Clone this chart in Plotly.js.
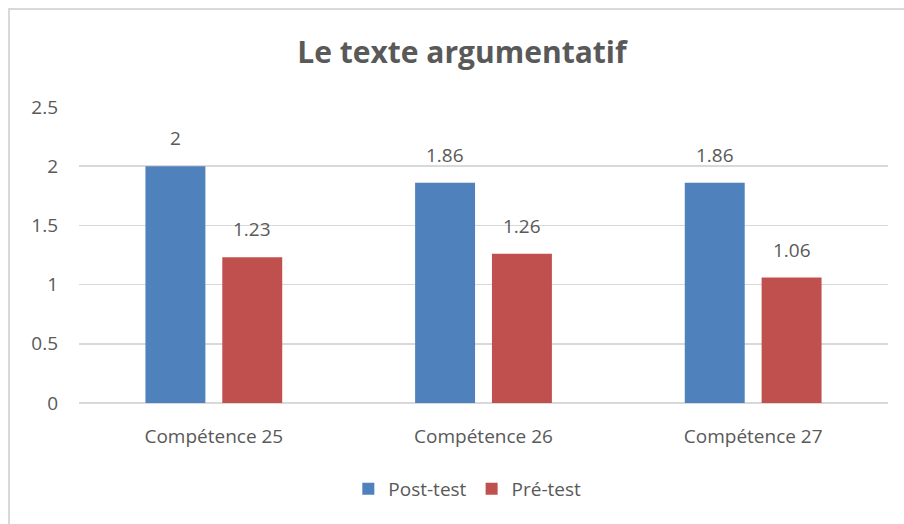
<!DOCTYPE html>
<html><head><meta charset="utf-8">
<script src="https://cdn.plot.ly/plotly-3.0.1.min.js"></script>
<style>
html,body{margin:0;padding:0;background:#fff;overflow:hidden}
#chart{width:904px;height:524px;position:relative}
#frame{position:absolute;left:8px;top:8px;width:1000px;height:1000px;border:2px solid #d9d9d9;pointer-events:none}
</style></head>
<body>
<div style="position:relative;width:904px;height:524px;overflow:hidden">
<div id="chart"></div>
<div id="frame"></div>
</div>
<script>
const categories = ["Compétence 25", "Compétence 26", "Compétence 27"];
const seriesNames = ["Post-test", "Pré-test"];
const postTest = [2, 1.86, 1.86];
const preTest = [1.23, 1.26, 1.06];
const postLabels = ["2", "1.86", "1.86"];
const preLabels = ["1.23", "1.26", "1.06"];
const yTicks = [0, 0.5, 1, 1.5, 2, 2.5];
const yTickLabels = ["0", "0.5", "1", "1.5", "2", "2.5"];

const FONT = "Open Sans, sans-serif";
const TXT = "#595959";
const BARGAP = 0.43;
const slot = (1 - BARGAP) / 2;

const traces = [
  {type:"bar", name:seriesNames[0], x:categories, y:postTest, marker:{color:"#4F81BD"}, hoverinfo:"none"},
  {type:"bar", name:seriesNames[1], x:categories, y:preTest, marker:{color:"#C0504D"}, hoverinfo:"none"}
];

const annotations = [];
[[postTest, postLabels, -slot/2], [preTest, preLabels, slot/2]].forEach(([vals, labs, off]) => {
  vals.forEach((v, i) => annotations.push({
    x: i + off, y: v, xref:"x", yref:"y", text: labs[i], showarrow:false,
    xanchor:"center", yanchor:"bottom", yshift:13,
    font:{family:FONT, size:19, color:TXT}
  }));
});

const layout = {
  width:904, height:524,
  margin:{l:79, r:16, t:107, b:121},
  paper_bgcolor:"#fff", plot_bgcolor:"#fff",
  font:{family:FONT, color:TXT, size:19},
  title:{text:"<b>Le texte argumentatif</b>", x:0.511, xanchor:"center", y:0.9, yanchor:"middle",
         font:{family:FONT, size:30, color:TXT}},
  barmode:"group", bargap:BARGAP, bargroupgap:0.22,
  xaxis:{type:"category", tickfont:{family:FONT, size:19, color:TXT}, showgrid:false, zeroline:false,
         showline:false, ticks:"", automargin:false, ticklabelstandoff:20},
  yaxis:{range:[0,2.5], tickvals:yTicks, ticktext:yTickLabels, showgrid:true, gridcolor:"#d9d9d9", gridwidth:1.5,
         zeroline:true, zerolinecolor:"#d9d9d9", zerolinewidth:1.5, showline:false, ticks:"", ticklen:0,
         tickfont:{family:FONT, size:19, color:TXT}, automargin:false, ticklabelstandoff:20},
  annotations: annotations,
  showlegend:true,
  legend:{orientation:"h", x:0.48, xanchor:"center", y:-0.29, yanchor:"middle",
          font:{family:FONT, size:19, color:TXT}, itemwidth:30, traceorder:"normal"}
};

Plotly.newPlot("chart", traces, layout, {displayModeBar:false, staticPlot:true});
</script>
</body></html>
